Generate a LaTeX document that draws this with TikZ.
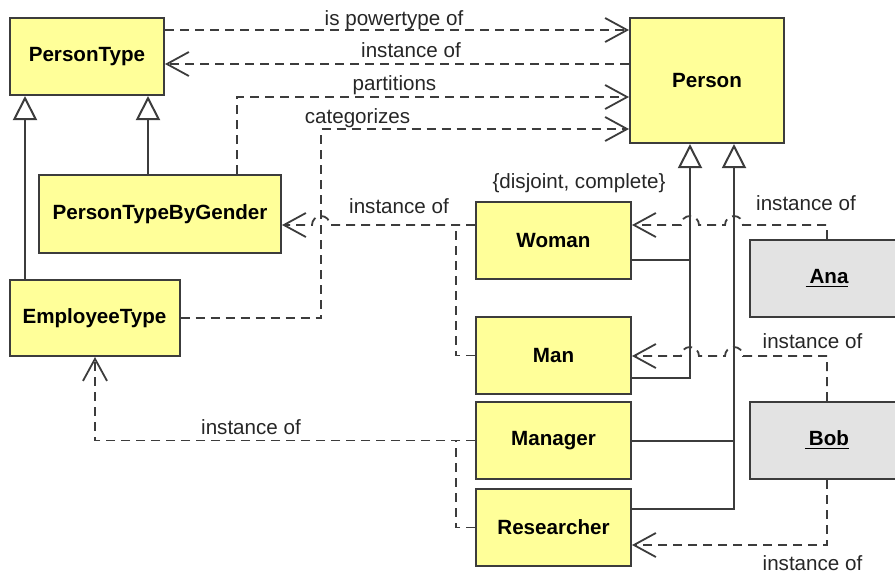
\documentclass[tikz,border=0pt]{standalone}
\usepackage{fontspec}
\setmainfont{Liberation Sans}
\usetikzlibrary{arrows.meta,calc}
\definecolor{clsfill}{HTML}{FFFF99}
\definecolor{objfill}{HTML}{E3E3E3}
\definecolor{edge}{HTML}{3C3C3C}
\tikzset{
  cls/.style={draw=edge, fill=clsfill, line width=1pt, inner sep=0pt, font=\fontsize{10.3}{12}\selectfont\bfseries},
  obj/.style={cls, fill=objfill},
  dep/.style={draw=edge, line width=0.9pt, dash pattern=on 4.5pt off 3pt},
  inst/.style={dep, -{Straight Barb[length=11pt,width=12pt,line width=0.9pt]}},
  genl/.style={draw=edge, line width=1pt, -{Triangle[open,length=12pt,width=12pt,fill=white]}},
  tree/.style={draw=edge, line width=1pt},
  lbl/.style={font=\fontsize{10.3}{12}\selectfont, text=black!85, inner sep=0pt, anchor=base}
}
\begin{document}
\begin{tikzpicture}[x=.5pt, y=-.5pt]
  \useasboundingbox (0,0) rectangle (895,575);
  \clip (0,0) rectangle (895,575);

  % classes
  \node[cls, minimum width=77pt, minimum height=38.5pt] (ptype) at (87,56.5) {PersonType};
  \node[cls, minimum width=121pt, minimum height=39pt] (ptbg) at (160,214) {PersonTypeByGender};
  \node[cls, minimum width=85pt, minimum height=38pt] (emptype) at (94.5,318) {EmployeeType};
  \node[cls, minimum width=77pt, minimum height=62.5pt] (person) at (707,80.5) {Person};
  \foreach \n/\t/\y in {woman/Woman/240.5, man/Man/355.5, manager/Manager/440.5, researcher/Researcher/527.5}
    \node[cls, minimum width=77.5pt, minimum height=38.5pt] (\n) at (553.5,\y) {\t};
  \foreach \n/\t/\y in {ana/Ana/278.5, bob/Bob/440.5}
    \node[obj, minimum width=77pt, minimum height=38.5pt] (\n) at (827,\y) {\underline{\kern2pt\t}};

  % generalizations
  \draw[genl] (emptype.north -| 25,0) -- (ptype.south -| 25,0);
  \draw[genl] (ptbg.north -| 148,0) -- (ptype.south -| 148,0);
  \draw[genl] (man.east |- 0,378) -| (person.south -| 690,0);
  \draw[tree] (woman.east |- 0,260) -- (690,260);
  \draw[genl] (researcher.east |- 0,509) -| (person.south -| 734,0);
  \draw[tree] (manager.east) -- (manager.east -| 734,0);

  % dependencies
  \draw[inst] (ptype.east |- 0,30) -- (person.west |- 0,30);
  \draw[inst] (person.west |- 0,64) -- (ptype.east |- 0,64);
  \draw[inst] (ptbg.north -| 237,0) |- (person.west |- 0,97);
  \draw[inst] (emptype.east) -| (321,129) -- (person.west |- 0,129);
  \draw[inst] (woman.west |- 0,225) -- (330,225) arc[start angle=0, end angle=-180, radius=9] -- (ptbg.east |- 0,225);
  \draw[dep] (man.west) -- (456,355.5) -- (456,225);
  \draw[inst] (manager.west) -| (emptype.south -| 95,0);
  \draw[dep] (researcher.west) -- (456,527.5) -- (456,440.5);
  \draw[inst] (ana.north) |- (743,225) arc[start angle=0, end angle=-180, radius=9]
    -- (699,225) arc[start angle=0, end angle=-180, radius=9] -- (woman.east |- 0,225);
  \draw[inst] (bob.north) |- (743,356) arc[start angle=0, end angle=-180, radius=9]
    -- (699,356) arc[start angle=0, end angle=-180, radius=9] -- (man.east |- 0,356);
  \draw[inst] (bob.south) |- (researcher.east |- 0,545);

  % labels
  \node[lbl] (lpow) at (394,25) {is powertype of};
  \node[lbl] (linst) at (411,57) {instance of};
  \node[lbl] (lpart) at (394.5,90) {partitions};
  \node[lbl] (lcat) at (357.5,123) {categorizes};
  \node[lbl] (lgender) at (399,213) {instance of};
  \node[lbl] (ldisj) at (579,188) {\{disjoint, complete\}};
  \node[lbl] (lana) at (806,210) {instance of};
  \node[lbl] (lbobm) at (812.5,348) {instance of};
  \node[lbl] (lemp) at (251,434) {instance of};
  \node[lbl] (lbobr) at (812.5,570) {instance of};
\end{tikzpicture}
\end{document}
